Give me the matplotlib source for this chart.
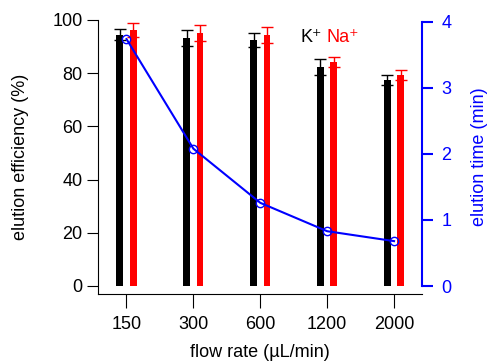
import numpy as np
import matplotlib.pyplot as plt

plt.rcParams['font.family'] = ['Liberation Sans', 'DejaVu Sans']
plt.rcParams['font.size'] = 13

flow = ['150', '300', '600', '1200', '2000']
k_eff = [94.5, 93.2, 92.5, 82.3, 77.4]
k_err = [2.2, 3.0, 2.5, 3.0, 2.0]
na_eff = [96.2, 95.1, 94.4, 84.2, 79.3]
na_err = [2.8, 3.0, 3.0, 2.0, 2.0]
el_time = [3.74, 2.08, 1.26, 0.83, 0.68]

x = np.arange(len(flow))
fig, ax = plt.subplots(figsize=(4.92, 3.62), dpi=100)
fig.subplots_adjust(left=0.2, right=0.858, top=0.945, bottom=0.188)

w = 0.1
ax.bar(x - w, k_eff, width=w, color='black')
ax.bar(x + w, na_eff, width=w, color='red')
ax.errorbar(x - w, k_eff, yerr=k_err, fmt='none', ecolor='black', elinewidth=1, capsize=4, capthick=1)
ax.errorbar(x + w, na_eff, yerr=na_err, fmt='none', ecolor='red', elinewidth=1, capsize=4, capthick=1)

ax.set_xlim(-0.42, 4.42)
ax.set_ylim(-3, 100)
ax.set_xticks(x)
ax.set_xticklabels(flow)
ax.set_yticks([0, 20, 40, 60, 80, 100])
ax.set_xlabel('flow rate (µL/min)', labelpad=8)
ax.set_ylabel('elution efficiency (%)', labelpad=17)
ax.tick_params(axis='x', length=10, pad=6)
ax.tick_params(axis='y', length=8)
ax.spines['top'].set_visible(False)
ax.spines['right'].set_visible(False)

ax.text(0.625, 0.92, 'K⁺', color='black', transform=ax.transAxes)
ax.text(0.705, 0.92, 'Na⁺', color='red', transform=ax.transAxes)

ax2 = ax.twinx()
ax2.plot(x, el_time, color='blue', lw=1.5, marker='o', mfc='none', mec='blue', ms=6)
ax2.set_ylim(-0.12, 4.03)
ax2.set_yticks([0, 1, 2, 3, 4])
ax2.spines['right'].set_bounds(0, 4)
ax2.spines['right'].set_color('blue')
ax2.spines['right'].set_linewidth(1.5)
ax2.spines['top'].set_visible(False)
ax2.spines['left'].set_visible(False)
ax2.spines['bottom'].set_visible(False)
ax2.tick_params(axis='y', colors='blue', length=8, width=1.5, pad=6)
ax2.set_ylabel('elution time (min)', color='blue', labelpad=14)

fig.savefig('out.png', dpi=100)
